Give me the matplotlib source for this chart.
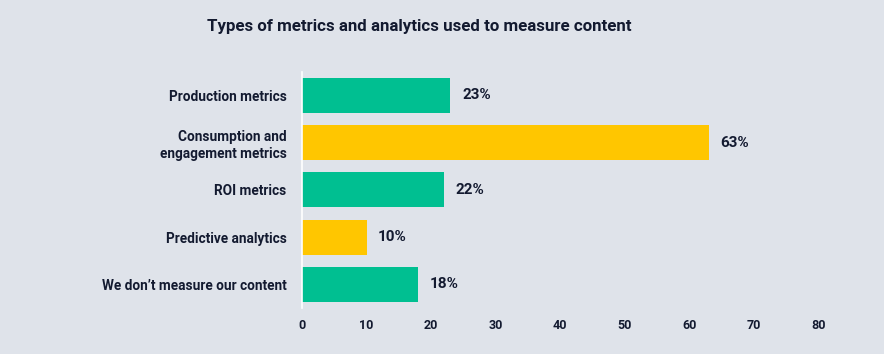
import matplotlib

matplotlib.use("Agg")
import matplotlib.pyplot as plt

# Data
categories = [
    "Production metrics",
    "Consumption and\nengagement metrics",
    "ROI metrics",
    "Predictive analytics",
    "We don\u2019t measure our content",
]
values = [23, 63, 22, 10, 18]
bar_colors = ["#00bf91", "#ffc600", "#00bf91", "#ffc600", "#00bf91"]
x_ticks = [0, 10, 20, 30, 40, 50, 60, 70, 80]

bg = "#dfe3ea"
text_color = "#131a30"

plt.rcParams["font.family"] = ["Roboto", "DejaVu Sans"]

fig = plt.figure(figsize=(8.84, 3.54), dpi=100, facecolor=bg)
ax = fig.add_axes([0.3416, 0.13, 0.584, 0.667], facecolor=bg)

y = list(range(len(categories)))
ax.barh(y, values, height=0.74, color=bar_colors)

for yi, v in zip(y, values):
    ax.text(v + 1.8, yi, f"{v}%", va="center", ha="left",
            fontsize=11, fontweight="bold", color=text_color)

ax.set_ylim(len(categories) - 0.5, -0.5)
ax.set_xlim(0, 80)
ax.set_yticks(y)
ax.set_yticklabels(categories, fontsize=9.8, fontweight="bold",
                   color=text_color, linespacing=1.3)
ax.set_xticks(x_ticks)
ax.set_xticklabels([str(t) for t in x_ticks], fontsize=9, fontweight="bold",
                   color=text_color)
ax.tick_params(axis="both", length=0)
ax.tick_params(axis="y", pad=11)
ax.tick_params(axis="x", pad=8)

for side in ["top", "right", "bottom"]:
    ax.spines[side].set_visible(False)
ax.spines["left"].set_color("white")
ax.spines["left"].set_linewidth(1.2)

fig.text(0.474, 0.925, "Types of metrics and analytics used to measure content",
         ha="center", va="center", fontsize=12.2, fontweight="bold",
         color=text_color)

fig.savefig("out.png", dpi=100, facecolor=bg)
